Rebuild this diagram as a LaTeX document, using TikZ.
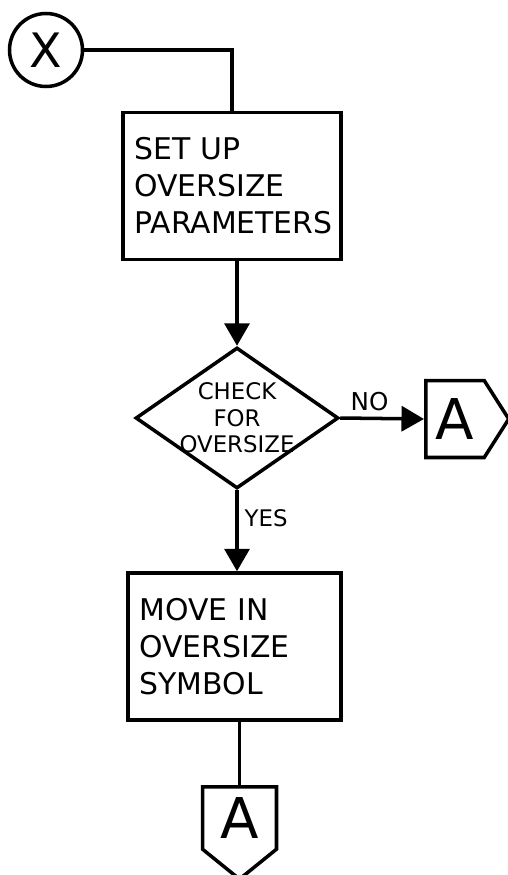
\documentclass[tikz,border=0pt]{standalone}
\usepackage{fontspec}
\setmainfont{DejaVu Sans}
\usetikzlibrary{arrows.meta,shapes.geometric,shapes.symbols}

\tikzset{
  box/.style={draw=black,line width=2pt,rectangle,inner sep=0pt,align=left,font=\fontsize{17}{21}\selectfont},
  flow/.style={draw=black,line width=2pt},
  arr/.style={flow,-{Triangle[length=0.45cm,width=0.5cm]}},
  offpage/.style={signal,draw=black,line width=2pt,inner sep=0pt,font=\fontsize{32}{32}\selectfont}
}

\begin{document}
\begin{tikzpicture}[x=0.02cm,y=-0.02cm]
  \useasboundingbox (0,0) rectangle (507,875);
  \node[circle,draw=black,line width=2pt,minimum size=1.46cm,inner sep=0pt,font=\fontsize{27}{27}\selectfont] (x) at (46,50) {X};
  \node[box,text width=3.9cm,minimum width=4.36cm,minimum height=2.94cm] (setup) at (232,186) {SET UP\\OVERSIZE\\PARAMETERS};
  \node[diamond,draw=black,line width=2pt,minimum width=4.06cm,minimum height=2.82cm,inner sep=0pt,
        label={[align=center,font=\fontsize{13}{15}\selectfont]center:CHECK\\FOR\\OVERSIZE}] (check) at (237,418) {};
  \node[offpage,signal to=east,signal pointer angle=115,minimum width=1.66cm,minimum height=1.54cm,anchor=west] (aright) at (424,419) {A};
  \node[box,text width=3.8cm,minimum width=4.26cm,minimum height=2.94cm] (move) at (234.5,646.5) {MOVE IN\\OVERSIZE\\SYMBOL};
  \node[offpage,signal to=south,signal pointer angle=102,minimum width=1.48cm,minimum height=1.56cm,anchor=north] (adown) at (239.5,785) {A};

  \draw[flow] (x.east) -| (setup.north);
  \draw[arr] (check.north |- setup.south) -- (check.north);
  \draw[arr] (check.east) -- node[above,font=\fontsize{14}{14}\selectfont,pos=0.35] (no) {NO} (aright.west);
  \draw[arr] (check.south) -- node[right,font=\fontsize{13}{13}\selectfont,pos=0.35] (yes) {YES} (check.south |- move.north);
  \draw[flow] (adown.north |- move.south) -- (adown.north);
\end{tikzpicture}
\end{document}
